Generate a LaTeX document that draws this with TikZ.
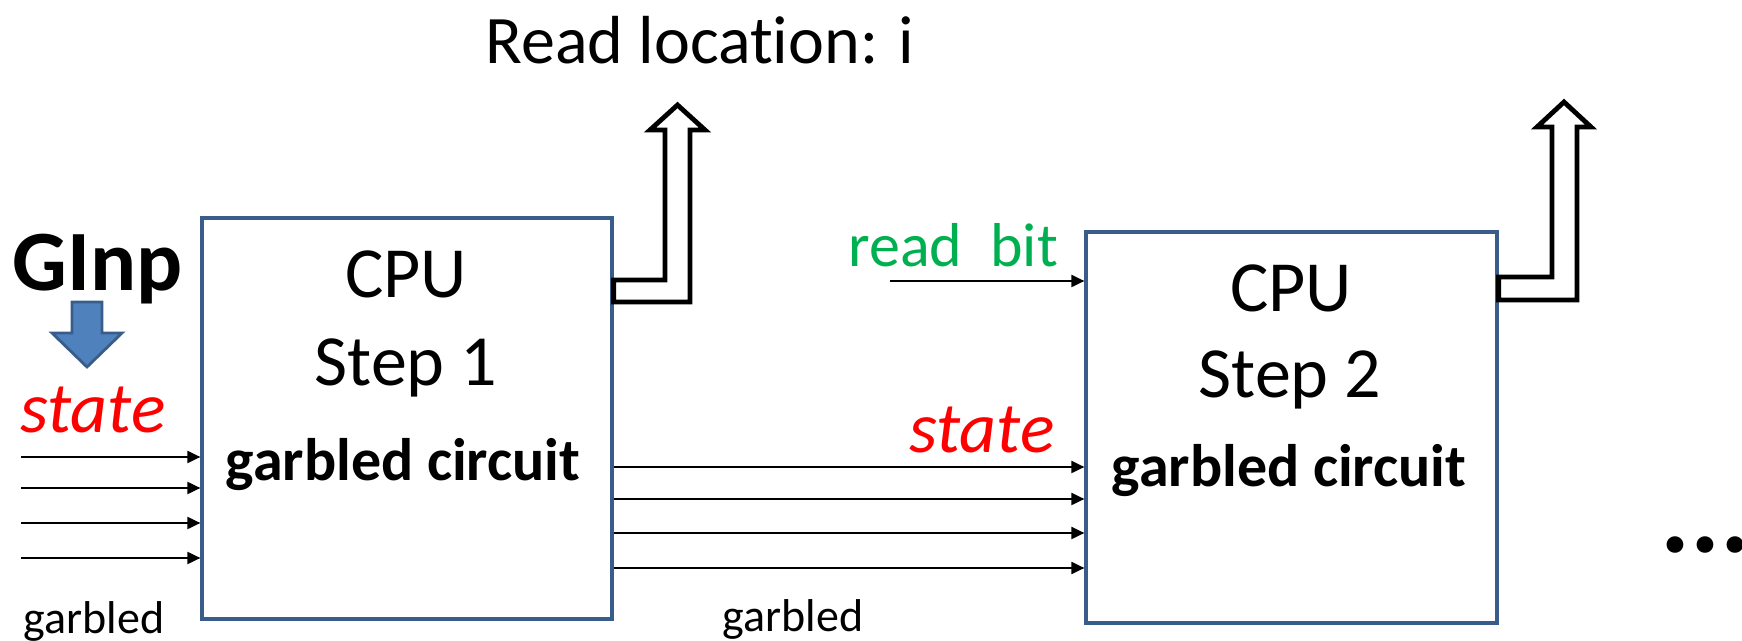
\documentclass[tikz,border=0pt]{standalone}
\usepackage{fontspec}
\setmainfont{Carlito}[Ligatures=NoCommon]
\usepackage{tikz}
\usetikzlibrary{arrows.meta, positioning, calc}

\definecolor{boxblue}{RGB}{56,93,138}
\definecolor{fillblue}{RGB}{79,129,189}
\definecolor{bitgreen}{RGB}{0,176,80}

\tikzset{
  cpubox/.style={draw=boxblue, line width=1.6pt, fill=white, minimum width=205pt, inner sep=0pt},
  big/.style={font=\fontsize{36}{40}\selectfont, inner sep=0pt, anchor=base},
  gc/.style={font=\fontsize{30}{34}\selectfont\bfseries, inner sep=0pt, anchor=base},
  statelbl/.style={font=\fontsize{36}{40}\selectfont\itshape, text=red, inner sep=0pt, anchor=base},
  small/.style={font=\fontsize{23}{26}\selectfont, inner sep=0pt, anchor=base},
  wire/.style={line width=1pt, -{Triangle[length=6.5pt, width=6pt]}},
  hollow/.style={draw=black, line width=2.4pt, fill=white, line join=miter},
}

\begin{document}
\begin{tikzpicture}[x=0.5pt, y=-0.5pt]
  \useasboundingbox (0,0) rectangle (1742,641);

  % the two CPU steps
  \node[cpubox, minimum height=200.5pt] (step1) at (407,418.5) {};
  \node[cpubox, minimum height=195.5pt, minimum width=205.5pt] (step2) at (1291.5,427.5) {};

  \node[big] (cpu1) at (406,298) {CPU};
  \node[big] (stp1) at (406,386) {Step 1};
  \node[gc] (gc1) at (403,481) {garbled circuit};

  \node[big] (cpu2) at (1291,312) {CPU};
  \node[big] (stp2) at (1290,398) {Step 2};
  \node[gc] (gc2) at (1289,487) {garbled circuit};

  % read location outputs
  \draw[hollow] (step1.east |- 0,280) -- (665,280) -- (665,130) -- (650,130) -- (677.5,105)
    -- (705,130) -- (690,130) -- (690,302) -- (step1.east |- 0,302) -- cycle;
  \draw[hollow] (step2.east |- 0,277) -- (1552,277) -- (1552,127) -- (1537,127) -- (1564,102)
    -- (1591,127) -- (1577,127) -- (1577,300) -- (step2.east |- 0,300) -- cycle;
  \node[font=\fontsize{34}{38}\selectfont, inner sep=0pt, anchor=base west] (readloc) at (485,64) {Read location: i};

  % garbled input
  \node[font=\fontsize{43}{46}\selectfont\bfseries, inner sep=0pt, anchor=base west] (ginp) at (12,291) {GInp};
  \draw[draw=boxblue, fill=fillblue, line width=1.4pt, line join=miter]
    (72,302) -- (102,302) -- (102,333) -- (122,333) -- (87,367) -- (52,333) -- (72,333) -- cycle;

  \node[statelbl] (state1) at (93,433) {state};
  \foreach \i/\y in {1/457,2/488,3/523,4/558}{
    \coordinate (in\i) at (21,\y);
    \draw[wire] (in\i) -- (step1.west |- in\i);
  }
  \node[small] (garb1) at (94,634) {garbled};

  % state passed to step 2
  \foreach \y in {467,499,533,568}
    \draw[wire] (step1.east |- 0,\y) -- (step2.west |- 0,\y);
  \node[statelbl] (state2) at (982,453) {state};
  \node[small] (garb2) at (793,632) {garbled};

  % bit read from memory
  \node[font=\fontsize{31}{34}\selectfont, text=bitgreen, inner sep=0pt, anchor=base west] (rbit) at (848,267) {read\ \ bit};
  \coordinate (rbin) at (890,281);
  \draw[wire] (rbin) -- (step2.west |- rbin);

  \node[font=\fontsize{56}{60}\selectfont\bfseries, inner sep=0pt, anchor=base west] (more) at (1660,553) {...};
\end{tikzpicture}
\end{document}
